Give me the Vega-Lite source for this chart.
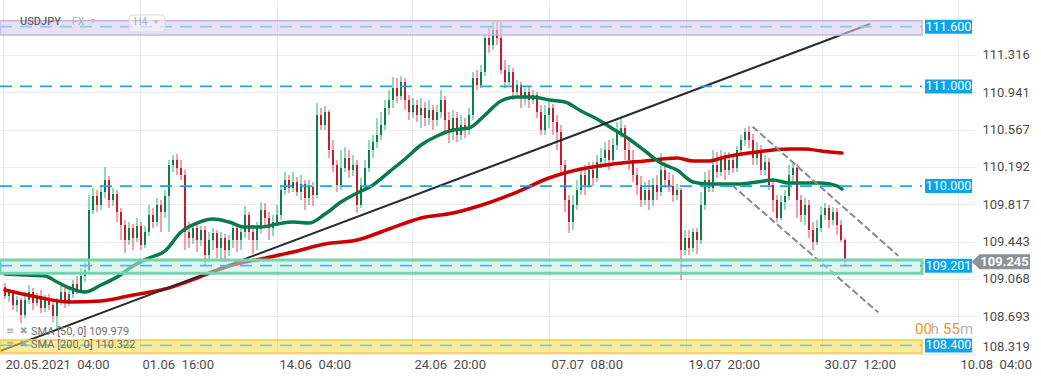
{
"$schema": "https://vega.github.io/schema/vega-lite/v6.json",
"width": 975, "height": 355,
"autosize": {"type": "none"},
"padding": {"left": 0, "top": 0, "right": 66, "bottom": 24},
"background": "white",
"config": {"view": {"stroke": null}, "font": "Roboto"},
"datasets": {
"candles": [
{"i":0,"o":108.987,"h":109.027,"l":108.866,"c":108.896},
{"i":1,"o":108.896,"h":108.966,"l":108.836,"c":108.936},
{"i":2,"o":108.936,"h":108.956,"l":108.756,"c":108.806},
{"i":3,"o":108.806,"h":108.896,"l":108.735,"c":108.856},
{"i":4,"o":108.856,"h":108.876,"l":108.625,"c":108.705},
{"i":5,"o":108.705,"h":108.936,"l":108.675,"c":108.856},
{"i":6,"o":108.856,"h":109.007,"l":108.816,"c":108.936},
{"i":7,"o":108.936,"h":108.977,"l":108.756,"c":108.826},
{"i":8,"o":108.826,"h":108.926,"l":108.796,"c":108.896},
{"i":9,"o":108.896,"h":108.956,"l":108.725,"c":108.776},
{"i":10,"o":108.776,"h":108.906,"l":108.735,"c":108.876},
{"i":11,"o":108.876,"h":108.916,"l":108.756,"c":108.806},
{"i":12,"o":108.806,"h":108.856,"l":108.635,"c":108.695},
{"i":13,"o":108.695,"h":108.876,"l":108.555,"c":108.856},
{"i":14,"o":108.856,"h":108.997,"l":108.806,"c":108.936},
{"i":15,"o":108.936,"h":108.977,"l":108.776,"c":108.836},
{"i":16,"o":108.836,"h":108.956,"l":108.796,"c":108.916},
{"i":17,"o":108.916,"h":109.057,"l":108.876,"c":109.017},
{"i":18,"o":109.017,"h":109.097,"l":108.916,"c":108.956},
{"i":19,"o":108.956,"h":109.177,"l":108.926,"c":109.097},
{"i":20,"o":109.097,"h":109.238,"l":109.037,"c":109.157},
{"i":21,"o":109.157,"h":109.910,"l":109.137,"c":109.760},
{"i":22,"o":109.760,"h":109.980,"l":109.719,"c":109.900},
{"i":23,"o":109.900,"h":109.960,"l":109.740,"c":109.810},
{"i":24,"o":109.810,"h":110.011,"l":109.760,"c":109.940},
{"i":25,"o":109.940,"h":110.191,"l":109.880,"c":110.061},
{"i":26,"o":110.061,"h":110.101,"l":109.780,"c":109.860},
{"i":27,"o":109.860,"h":109.980,"l":109.800,"c":109.920},
{"i":28,"o":109.920,"h":109.960,"l":109.639,"c":109.740},
{"i":29,"o":109.740,"h":109.780,"l":109.458,"c":109.609},
{"i":30,"o":109.609,"h":109.659,"l":109.328,"c":109.458},
{"i":31,"o":109.458,"h":109.639,"l":109.408,"c":109.579},
{"i":32,"o":109.579,"h":109.619,"l":109.358,"c":109.479},
{"i":33,"o":109.479,"h":109.679,"l":109.438,"c":109.599},
{"i":34,"o":109.599,"h":109.639,"l":109.358,"c":109.408},
{"i":35,"o":109.408,"h":109.599,"l":109.378,"c":109.539},
{"i":36,"o":109.539,"h":109.810,"l":109.499,"c":109.709},
{"i":37,"o":109.709,"h":109.780,"l":109.579,"c":109.639},
{"i":38,"o":109.639,"h":109.880,"l":109.599,"c":109.810},
{"i":39,"o":109.810,"h":109.860,"l":109.539,"c":109.740},
{"i":40,"o":109.740,"h":109.960,"l":109.679,"c":109.900},
{"i":41,"o":109.900,"h":110.262,"l":109.539,"c":110.211},
{"i":42,"o":110.211,"h":110.312,"l":110.141,"c":110.262},
{"i":43,"o":110.262,"h":110.322,"l":110.111,"c":110.181},
{"i":44,"o":110.181,"h":110.262,"l":110.061,"c":110.111},
{"i":45,"o":110.111,"h":110.161,"l":109.358,"c":109.539},
{"i":46,"o":109.539,"h":109.639,"l":109.378,"c":109.479},
{"i":47,"o":109.479,"h":109.609,"l":109.418,"c":109.579},
{"i":48,"o":109.579,"h":109.619,"l":109.338,"c":109.458},
{"i":49,"o":109.458,"h":109.599,"l":109.398,"c":109.559},
{"i":50,"o":109.559,"h":109.599,"l":109.207,"c":109.308},
{"i":51,"o":109.308,"h":109.539,"l":109.238,"c":109.458},
{"i":52,"o":109.458,"h":109.579,"l":109.358,"c":109.529},
{"i":53,"o":109.529,"h":109.559,"l":109.278,"c":109.378},
{"i":54,"o":109.378,"h":109.539,"l":109.238,"c":109.479},
{"i":55,"o":109.479,"h":109.519,"l":109.238,"c":109.358},
{"i":56,"o":109.358,"h":109.509,"l":109.298,"c":109.458},
{"i":57,"o":109.458,"h":109.639,"l":109.378,"c":109.579},
{"i":58,"o":109.579,"h":109.609,"l":109.338,"c":109.458},
{"i":59,"o":109.458,"h":109.579,"l":109.358,"c":109.539},
{"i":60,"o":109.539,"h":109.800,"l":109.479,"c":109.709},
{"i":61,"o":109.709,"h":109.740,"l":109.458,"c":109.539},
{"i":62,"o":109.539,"h":109.609,"l":109.318,"c":109.458},
{"i":63,"o":109.458,"h":109.639,"l":109.358,"c":109.579},
{"i":64,"o":109.579,"h":109.840,"l":109.519,"c":109.760},
{"i":65,"o":109.760,"h":109.830,"l":109.599,"c":109.679},
{"i":66,"o":109.679,"h":109.740,"l":109.458,"c":109.579},
{"i":67,"o":109.579,"h":109.709,"l":109.499,"c":109.639},
{"i":68,"o":109.639,"h":109.810,"l":109.599,"c":109.709},
{"i":69,"o":109.709,"h":110.011,"l":109.659,"c":109.960},
{"i":70,"o":109.960,"h":110.141,"l":109.910,"c":110.061},
{"i":71,"o":110.061,"h":110.111,"l":109.930,"c":109.980},
{"i":72,"o":109.980,"h":110.141,"l":109.940,"c":110.041},
{"i":73,"o":110.041,"h":110.091,"l":109.900,"c":109.940},
{"i":74,"o":109.940,"h":110.111,"l":109.860,"c":110.021},
{"i":75,"o":110.021,"h":110.061,"l":109.760,"c":109.880},
{"i":76,"o":109.880,"h":110.061,"l":109.810,"c":109.991},
{"i":77,"o":109.991,"h":110.041,"l":109.800,"c":109.910},
{"i":78,"o":109.910,"h":110.834,"l":109.880,"c":110.713},
{"i":79,"o":110.713,"h":110.784,"l":110.563,"c":110.613},
{"i":80,"o":110.613,"h":110.804,"l":110.563,"c":110.744},
{"i":81,"o":110.744,"h":110.764,"l":110.282,"c":110.362},
{"i":82,"o":110.362,"h":110.462,"l":110.141,"c":110.211},
{"i":83,"o":110.211,"h":110.262,"l":109.940,"c":110.011},
{"i":84,"o":110.011,"h":110.362,"l":109.960,"c":110.181},
{"i":85,"o":110.181,"h":110.392,"l":110.141,"c":110.282},
{"i":86,"o":110.282,"h":110.362,"l":110.081,"c":110.161},
{"i":87,"o":110.161,"h":110.312,"l":110.101,"c":110.211},
{"i":88,"o":110.211,"h":110.262,"l":109.729,"c":109.810},
{"i":89,"o":109.810,"h":110.081,"l":109.780,"c":110.011},
{"i":90,"o":110.011,"h":110.262,"l":109.960,"c":110.181},
{"i":91,"o":110.181,"h":110.462,"l":110.141,"c":110.362},
{"i":92,"o":110.362,"h":110.513,"l":110.282,"c":110.442},
{"i":93,"o":110.442,"h":110.683,"l":110.382,"c":110.513},
{"i":94,"o":110.513,"h":110.744,"l":110.462,"c":110.613},
{"i":95,"o":110.613,"h":110.864,"l":110.563,"c":110.784},
{"i":96,"o":110.784,"h":110.964,"l":110.713,"c":110.864},
{"i":97,"o":110.864,"h":111.095,"l":110.784,"c":110.984},
{"i":98,"o":110.984,"h":111.085,"l":110.834,"c":110.904},
{"i":99,"o":110.904,"h":111.105,"l":110.864,"c":111.045},
{"i":100,"o":111.045,"h":111.085,"l":110.764,"c":110.864},
{"i":101,"o":110.864,"h":110.914,"l":110.663,"c":110.744},
{"i":102,"o":110.744,"h":110.884,"l":110.683,"c":110.814},
{"i":103,"o":110.814,"h":110.864,"l":110.643,"c":110.713},
{"i":104,"o":110.713,"h":110.884,"l":110.583,"c":110.784},
{"i":105,"o":110.784,"h":110.844,"l":110.603,"c":110.683},
{"i":106,"o":110.683,"h":110.864,"l":110.613,"c":110.764},
{"i":107,"o":110.764,"h":110.814,"l":110.563,"c":110.663},
{"i":108,"o":110.663,"h":110.814,"l":110.603,"c":110.744},
{"i":109,"o":110.744,"h":110.964,"l":110.683,"c":110.864},
{"i":110,"o":110.864,"h":110.904,"l":110.543,"c":110.663},
{"i":111,"o":110.663,"h":110.744,"l":110.432,"c":110.543},
{"i":112,"o":110.543,"h":110.764,"l":110.462,"c":110.683},
{"i":113,"o":110.683,"h":110.744,"l":110.442,"c":110.513},
{"i":114,"o":110.513,"h":110.713,"l":110.462,"c":110.613},
{"i":115,"o":110.613,"h":110.683,"l":110.482,"c":110.563},
{"i":116,"o":110.563,"h":110.784,"l":110.513,"c":110.713},
{"i":117,"o":110.713,"h":111.145,"l":110.663,"c":111.085},
{"i":118,"o":111.085,"h":111.165,"l":110.964,"c":111.015},
{"i":119,"o":111.015,"h":111.215,"l":110.984,"c":111.145},
{"i":120,"o":111.145,"h":111.527,"l":111.105,"c":111.486},
{"i":121,"o":111.486,"h":111.587,"l":111.336,"c":111.416},
{"i":122,"o":111.416,"h":111.647,"l":111.366,"c":111.567},
{"i":123,"o":111.567,"h":111.667,"l":111.416,"c":111.486},
{"i":124,"o":111.486,"h":111.647,"l":111.125,"c":111.165},
{"i":125,"o":111.165,"h":111.266,"l":110.984,"c":111.045},
{"i":126,"o":111.045,"h":111.215,"l":111.015,"c":111.145},
{"i":127,"o":111.145,"h":111.185,"l":110.864,"c":110.944},
{"i":128,"o":110.944,"h":111.065,"l":110.914,"c":111.015},
{"i":129,"o":111.015,"h":111.045,"l":110.784,"c":110.884},
{"i":130,"o":110.884,"h":110.984,"l":110.814,"c":110.944},
{"i":131,"o":110.944,"h":111.005,"l":110.784,"c":110.864},
{"i":132,"o":110.864,"h":110.964,"l":110.824,"c":110.914},
{"i":133,"o":110.914,"h":110.944,"l":110.683,"c":110.744},
{"i":134,"o":110.744,"h":110.814,"l":110.513,"c":110.563},
{"i":135,"o":110.563,"h":110.814,"l":110.513,"c":110.713},
{"i":136,"o":110.713,"h":110.844,"l":110.583,"c":110.784},
{"i":137,"o":110.784,"h":110.824,"l":110.513,"c":110.643},
{"i":138,"o":110.643,"h":110.713,"l":110.362,"c":110.543},
{"i":139,"o":110.543,"h":110.613,"l":110.111,"c":110.211},
{"i":140,"o":110.211,"h":110.262,"l":109.740,"c":109.860},
{"i":141,"o":109.860,"h":109.910,"l":109.529,"c":109.639},
{"i":142,"o":109.639,"h":109.910,"l":109.559,"c":109.810},
{"i":143,"o":109.810,"h":110.061,"l":109.760,"c":109.960},
{"i":144,"o":109.960,"h":110.181,"l":109.910,"c":110.111},
{"i":145,"o":110.111,"h":110.211,"l":109.910,"c":110.011},
{"i":146,"o":110.011,"h":110.241,"l":109.980,"c":110.161},
{"i":147,"o":110.161,"h":110.241,"l":110.001,"c":110.081},
{"i":148,"o":110.081,"h":110.312,"l":110.041,"c":110.241},
{"i":149,"o":110.241,"h":110.382,"l":110.181,"c":110.282},
{"i":150,"o":110.282,"h":110.442,"l":110.211,"c":110.362},
{"i":151,"o":110.362,"h":110.462,"l":110.161,"c":110.262},
{"i":152,"o":110.262,"h":110.482,"l":110.211,"c":110.412},
{"i":153,"o":110.412,"h":110.643,"l":110.362,"c":110.543},
{"i":154,"o":110.543,"h":110.683,"l":110.482,"c":110.583},
{"i":155,"o":110.583,"h":110.613,"l":110.262,"c":110.362},
{"i":156,"o":110.362,"h":110.462,"l":110.161,"c":110.262},
{"i":157,"o":110.262,"h":110.362,"l":110.041,"c":110.111},
{"i":158,"o":110.111,"h":110.181,"l":109.910,"c":110.011},
{"i":159,"o":110.011,"h":110.101,"l":109.790,"c":109.860},
{"i":160,"o":109.860,"h":110.041,"l":109.810,"c":109.960},
{"i":161,"o":109.960,"h":110.061,"l":109.760,"c":109.860},
{"i":162,"o":109.860,"h":110.081,"l":109.800,"c":110.011},
{"i":163,"o":110.011,"h":110.111,"l":109.860,"c":109.940},
{"i":164,"o":109.940,"h":110.332,"l":109.900,"c":110.161},
{"i":165,"o":110.161,"h":110.241,"l":109.980,"c":110.061},
{"i":166,"o":110.061,"h":110.141,"l":109.940,"c":110.001},
{"i":167,"o":110.001,"h":110.111,"l":109.840,"c":109.910},
{"i":168,"o":109.910,"h":110.021,"l":109.860,"c":109.960},
{"i":169,"o":109.960,"h":109.980,"l":109.057,"c":109.358},
{"i":170,"o":109.358,"h":109.559,"l":109.308,"c":109.479},
{"i":171,"o":109.479,"h":109.559,"l":109.308,"c":109.378},
{"i":172,"o":109.378,"h":109.579,"l":109.338,"c":109.539},
{"i":173,"o":109.539,"h":109.579,"l":109.318,"c":109.458},
{"i":174,"o":109.458,"h":109.940,"l":109.418,"c":109.810},
{"i":175,"o":109.810,"h":110.141,"l":109.760,"c":110.061},
{"i":176,"o":110.061,"h":110.161,"l":109.940,"c":109.980},
{"i":177,"o":109.980,"h":110.362,"l":109.940,"c":110.211},
{"i":178,"o":110.211,"h":110.342,"l":110.081,"c":110.141},
{"i":179,"o":110.141,"h":110.362,"l":110.101,"c":110.282},
{"i":180,"o":110.282,"h":110.342,"l":110.061,"c":110.161},
{"i":181,"o":110.161,"h":110.342,"l":110.111,"c":110.262},
{"i":182,"o":110.262,"h":110.312,"l":110.131,"c":110.181},
{"i":183,"o":110.181,"h":110.402,"l":110.141,"c":110.362},
{"i":184,"o":110.362,"h":110.513,"l":110.312,"c":110.462},
{"i":185,"o":110.462,"h":110.583,"l":110.402,"c":110.543},
{"i":186,"o":110.543,"h":110.603,"l":110.382,"c":110.462},
{"i":187,"o":110.462,"h":110.523,"l":110.211,"c":110.282},
{"i":188,"o":110.282,"h":110.442,"l":110.211,"c":110.362},
{"i":189,"o":110.362,"h":110.412,"l":110.111,"c":110.161},
{"i":190,"o":110.161,"h":110.312,"l":110.111,"c":110.241},
{"i":191,"o":110.241,"h":110.282,"l":109.960,"c":110.011},
{"i":192,"o":110.011,"h":110.081,"l":109.740,"c":109.860},
{"i":193,"o":109.860,"h":109.910,"l":109.639,"c":109.679},
{"i":194,"o":109.679,"h":109.910,"l":109.659,"c":109.840},
{"i":195,"o":109.840,"h":109.960,"l":109.760,"c":109.900},
{"i":196,"o":109.900,"h":110.211,"l":109.860,"c":110.111},
{"i":197,"o":110.111,"h":110.231,"l":110.041,"c":110.181},
{"i":198,"o":110.181,"h":110.221,"l":109.679,"c":109.860},
{"i":199,"o":109.860,"h":109.910,"l":109.639,"c":109.709},
{"i":200,"o":109.709,"h":109.880,"l":109.609,"c":109.810},
{"i":201,"o":109.810,"h":109.860,"l":109.479,"c":109.559},
{"i":202,"o":109.559,"h":109.639,"l":109.358,"c":109.438},
{"i":203,"o":109.438,"h":109.659,"l":109.408,"c":109.579},
{"i":204,"o":109.579,"h":109.800,"l":109.539,"c":109.709},
{"i":205,"o":109.709,"h":109.830,"l":109.659,"c":109.780},
{"i":206,"o":109.780,"h":109.810,"l":109.579,"c":109.659},
{"i":207,"o":109.659,"h":109.790,"l":109.609,"c":109.740},
{"i":208,"o":109.740,"h":109.780,"l":109.509,"c":109.609},
{"i":209,"o":109.609,"h":109.659,"l":109.438,"c":109.458},
{"i":210,"o":109.458,"h":109.479,"l":109.187,"c":109.245}
],
"sma50": [
{"i":0,"v":109.117},{"i":5,"v":109.107},{"i":10,"v":109.097},{"i":13,"v":109.037},{"i":16,"v":108.977},{"i":20,"v":108.936},{"i":24,"v":109.007},{"i":28,"v":109.087},{"i":32,"v":109.197},{"i":36,"v":109.278},{"i":40,"v":109.348},{"i":44,"v":109.539},{"i":48,"v":109.629},{"i":52,"v":109.669},{"i":56,"v":109.639},{"i":60,"v":109.589},{"i":64,"v":109.589},{"i":68,"v":109.619},{"i":72,"v":109.639},{"i":76,"v":109.629},{"i":80,"v":109.719},{"i":84,"v":109.840},{"i":88,"v":109.930},{"i":92,"v":110.011},{"i":96,"v":110.141},{"i":100,"v":110.272},{"i":104,"v":110.412},{"i":108,"v":110.503},{"i":112,"v":110.563},{"i":116,"v":110.583},{"i":120,"v":110.713},{"i":124,"v":110.854},{"i":128,"v":110.894},{"i":132,"v":110.894},{"i":136,"v":110.864},{"i":140,"v":110.844},{"i":144,"v":110.754},{"i":148,"v":110.673},{"i":152,"v":110.573},{"i":156,"v":110.472},{"i":160,"v":110.352},{"i":164,"v":110.231},{"i":168,"v":110.161},{"i":172,"v":110.041},{"i":176,"v":110.021},{"i":180,"v":110.021},{"i":184,"v":110.021},{"i":188,"v":110.041},{"i":192,"v":110.061},{"i":196,"v":110.031},{"i":200,"v":110.031},{"i":204,"v":110.031},{"i":208,"v":110.001},{"i":209.25,"v":109.970}
],
"sma200": [
{"i":0,"v":108.956},{"i":8,"v":108.886},{"i":16,"v":108.836},{"i":24,"v":108.846},{"i":32,"v":108.906},{"i":40,"v":108.966},{"i":48,"v":109.077},{"i":56,"v":109.197},{"i":64,"v":109.268},{"i":72,"v":109.338},{"i":80,"v":109.418},{"i":88,"v":109.458},{"i":96,"v":109.569},{"i":104,"v":109.679},{"i":112,"v":109.729},{"i":120,"v":109.820},{"i":128,"v":109.940},{"i":136,"v":110.081},{"i":144,"v":110.171},{"i":152,"v":110.221},{"i":160,"v":110.252},{"i":168,"v":110.282},{"i":172,"v":110.252},{"i":176,"v":110.252},{"i":180,"v":110.292},{"i":188,"v":110.342},{"i":196,"v":110.372},{"i":200,"v":110.372},{"i":204,"v":110.352},{"i":209.25,"v":110.332}
],
"levels": [
{"lv":111.6,"t":"111.600"},{"lv":111.0,"t":"111.000"},{"lv":110.0,"t":"110.000"},{"lv":109.201,"t":"109.201"},{"lv":108.4,"t":"108.400"}
]
},
"layer": [
{"data":{"name":"candles"},"mark":{"type":"rule","strokeWidth":1},
 "encoding":{
  "x":{"field":"i","type":"quantitative","scale":{"domain":[-1.25,242.5],"nice":false,"zero":false},
   "axis":{"values":[-0.5,33.75,68,101.75,136,170.25,204.25,238.25],"title":null,"grid":true,"gridColor":"#ececec","domain":false,"ticks":false,"labelPadding":3,"labelAlign":"left","labelOffset":2,"labelFlush":false,"labelOverlap":false,"labelFontSize":13,"labelColor":"#4d4d4d","labelFont":"Roboto","labelBaseline":"top",
    "labelExpr":"datum.value < 10 ? '20.05.2021\u00a0\u00a004:00' : datum.value < 50 ? '01.06\u00a0\u00a016:00' : datum.value < 80 ? '14.06\u00a0\u00a004:00' : datum.value < 120 ? '24.06\u00a0\u00a020:00' : datum.value < 150 ? '07.07\u00a0\u00a008:00' : datum.value < 190 ? '19.07\u00a0\u00a020:00' : datum.value < 220 ? '30.07\u00a0\u00a012:00' : '10.08\u00a0\u00a004:00'"}},
  "y":{"field":"l","type":"quantitative","scale":{"domain":[108.304,111.868],"nice":false,"zero":false},
   "axis":{"orient":"right","values":[111.316,110.941,110.567,110.192,109.817,109.443,109.068,108.693,108.319],"format":".3f","title":null,"grid":true,"gridColor":"#ececec","domain":false,"ticks":false,"labelPadding":7,"labelFontSize":13,"labelColor":"#4d4d4d","labelFont":"Roboto","labelFlush":false,
    "labelBaseline":{"condition":{"test":"datum.value < 108.4","value":"bottom"},"value":"middle"}}},
  "y2":{"field":"h"},
  "color":{"condition":{"test":"datum.c >= datum.o","value":"#1fb574"},"value":"#f53d52"}
 }},
{"data":{"name":"candles"},"mark":{"type":"rule","strokeWidth":2},
 "encoding":{
  "x":{"field":"i","type":"quantitative","title":null},
  "y":{"field":"o","type":"quantitative","title":null},
  "y2":{"field":"c"},
  "color":{"condition":{"test":"datum.c >= datum.o","value":"#0d7f49"},"value":"#c81a30"}
 }},
{"data":{"name":"sma200"},"mark":{"type":"line","strokeWidth":3.5,"color":"#cc0000","interpolate":"monotone","strokeCap":"round"},
 "encoding":{
  "x":{"field":"i","type":"quantitative","title":null},
  "y":{"field":"v","type":"quantitative","title":null}
 }},
{"data":{"name":"sma50"},"mark":{"type":"line","strokeWidth":3.5,"color":"#097a4b","interpolate":"monotone","strokeCap":"round"},
 "encoding":{
  "x":{"field":"i","type":"quantitative","title":null},
  "y":{"field":"v","type":"quantitative","title":null}
 }},
{"data":{"values":[{"i":-1.25,"v":108.344},{"i":216.25,"v":111.627}]},"mark":{"type":"line","strokeWidth":2,"color":"#272c33"},
 "encoding":{
  "x":{"field":"i","type":"quantitative","title":null},
  "y":{"field":"v","type":"quantitative","title":null}
 }},
{"data":{"values":[{"g":"a","i":186.9,"v":110.596},{"g":"a","i":223.3,"v":109.301},{"g":"b","i":181.7,"v":110.011},{"g":"b","i":218.3,"v":108.732}]},
 "mark":{"type":"line","strokeWidth":2,"color":"#8a8a8a","strokeDash":[7,3]},
 "encoding":{
  "x":{"field":"i","type":"quantitative","title":null},
  "y":{"field":"v","type":"quantitative","title":null},
  "detail":{"field":"g"}
 }},
{"data":{"values":[{"a":-1.25,"b":229.25,"lo":111.517,"hi":111.66}]},
 "mark":{"type":"rect","fill":"#d8cdee","fillOpacity":0.6,"stroke":"#c4b8e2","strokeWidth":1.5},
 "encoding":{
  "x":{"field":"a","type":"quantitative","title":null},
  "x2":{"field":"b"},
  "y":{"field":"lo","type":"quantitative","title":null},
  "y2":{"field":"hi"}
 }},
{"data":{"values":[{"a":-1.25,"b":229.25,"lo":109.124,"hi":109.257}]},
 "mark":{"type":"rect","fill":"#c4eedd","fillOpacity":0.55,"stroke":"#6fd4b1","strokeWidth":3},
 "encoding":{
  "x":{"field":"a","type":"quantitative","title":null},
  "x2":{"field":"b"},
  "y":{"field":"lo","type":"quantitative","title":null},
  "y2":{"field":"hi"}
 }},
{"data":{"values":[{"a":-1.25,"b":229.25,"lo":108.324,"hi":108.454}]},
 "mark":{"type":"rect","fill":"#f8d94e","fillOpacity":0.55,"stroke":"#f3cf3c","strokeWidth":1.5},
 "encoding":{
  "x":{"field":"a","type":"quantitative","title":null},
  "x2":{"field":"b"},
  "y":{"field":"lo","type":"quantitative","title":null},
  "y2":{"field":"hi"}
 }},
{"data":{"name":"levels"},"mark":{"type":"rule","strokeDash":[12,8],"strokeWidth":1.8},
 "encoding":{
  "x":{"datum":-1.25,"type":"quantitative"},
  "x2":{"datum":229.25},
  "y":{"field":"lv","type":"quantitative","title":null},
  "color":{"field":"t","type":"nominal","legend":null,"scale":{"domain":["111.600","111.000","110.000","109.201","108.400"],"range":["#8ec6f0","#1ea6ea","#1ea6ea","#4cb8ea","#8dcaa6"]}}
 }},
{"data":{"name":"levels"},"mark":{"type":"tick","orient":"horizontal","size":47,"thickness":14,"color":"#0ba5ec","opacity":1},
 "encoding":{
  "x":{"datum":235.875,"type":"quantitative"},
  "y":{"field":"lv","type":"quantitative","title":null}
 }},
{"data":{"name":"levels"},"mark":{"type":"text","color":"white","fontSize":12.5,"font":"Roboto","align":"center","baseline":"middle"},
 "encoding":{
  "x":{"datum":235.875,"type":"quantitative"},
  "y":{"field":"lv","type":"quantitative","title":null},
  "text":{"field":"t"}
 }},
{"data":{"values":[{"i":249.875,"v":109.24}]},"mark":{"type":"tick","orient":"horizontal","size":51,"thickness":15,"color":"#8a9399","opacity":1},
 "encoding":{
  "x":{"field":"i","type":"quantitative","title":null},
  "y":{"field":"v","type":"quantitative","title":null}
 }},
{"data":{"values":[{"i":242.625,"v":109.24}]},"mark":{"type":"point","shape":"M-1,0L1,-1.8L1,1.8Z","size":64,"filled":true,"color":"#8a9399","opacity":1,"strokeWidth":0},
 "encoding":{
  "x":{"field":"i","type":"quantitative","title":null},
  "y":{"field":"v","type":"quantitative","title":null}
 }},
{"data":{"values":[{"i":249.875,"v":109.24,"t":"109.245"}]},"mark":{"type":"text","color":"white","fontSize":13,"fontWeight":"bold","font":"Roboto","align":"center","baseline":"middle"},
 "encoding":{
  "x":{"field":"i","type":"quantitative","title":null},
  "y":{"field":"v","type":"quantitative","title":null},
  "text":{"field":"t"}
 }},
{"data":{"values":[{"i":227.5,"v":108.515,"t":"00"},{"i":234.5,"v":108.515,"t":"55"}]},"mark":{"type":"text","color":"#f7941d","fontSize":15,"font":"Roboto","align":"left","baseline":"alphabetic"},
 "encoding":{
  "x":{"field":"i","type":"quantitative","title":null},
  "y":{"field":"v","type":"quantitative","title":null},
  "text":{"field":"t"}
 }},
{"data":{"values":[{"i":231.4,"v":108.515,"t":"h"},{"i":238.75,"v":108.515,"t":"m"}]},"mark":{"type":"text","color":"#b5b5b5","fontSize":15,"font":"Roboto","align":"left","baseline":"alphabetic"},
 "encoding":{
  "x":{"field":"i","type":"quantitative","title":null},
  "y":{"field":"v","type":"quantitative","title":null},
  "text":{"field":"t"}
 }},
{"data":{"values":[{"i":6.5,"v":108.535,"t":"SMA [50,  0] 109.979"},{"i":6.5,"v":108.404,"t":"SMA [200,  0] 110.322"}]},"mark":{"type":"text","color":"#6e6e6e","fontSize":11,"font":"Roboto","align":"left","baseline":"middle"},
 "encoding":{
  "x":{"field":"i","type":"quantitative","title":null},
  "y":{"field":"v","type":"quantitative","title":null},
  "text":{"field":"t"}
 }},
{"data":{"values":[{"i":0.25,"v":108.545,"t":"≡"},{"i":3.6,"v":108.545,"t":"✖"},{"i":0.25,"v":108.41,"t":"≡"},{"i":3.6,"v":108.41,"t":"✖"}]},"mark":{"type":"text","color":"#a6a6a6","fontSize":10,"font":"DejaVu Sans","align":"left","baseline":"middle"},
 "encoding":{
  "x":{"field":"i","type":"quantitative","title":null},
  "y":{"field":"v","type":"quantitative","title":null},
  "text":{"field":"t"}
 }},
{"data":{"values":[{"a":31,"b":40,"lo":111.547,"hi":111.717}]},
 "mark":{"type":"rect","fill":"white","fillOpacity":0.45,"stroke":"#d9d9d9","strokeWidth":1,"cornerRadius":3},
 "encoding":{
  "x":{"field":"a","type":"quantitative","title":null},
  "x2":{"field":"b"},
  "y":{"field":"lo","type":"quantitative","title":null},
  "y2":{"field":"hi"}
 }},
{"data":{"values":[{"i":3.75,"v":111.644,"t":"USDJPY"}]},"mark":{"type":"text","color":"#666666","fontSize":11,"fontWeight":500,"font":"Roboto","align":"left","baseline":"middle"},
 "encoding":{
  "x":{"field":"i","type":"quantitative","title":null},
  "y":{"field":"v","type":"quantitative","title":null},
  "text":{"field":"t"}
 }},
{"data":{"values":[{"i":16.75,"v":111.644,"t":"FX"},{"i":32.25,"v":111.644,"t":"H4"}]},"mark":{"type":"text","color":"#a9b2bd","fontSize":10.5,"font":"Roboto","align":"left","baseline":"middle"},
 "encoding":{
  "x":{"field":"i","type":"quantitative","title":null},
  "y":{"field":"v","type":"quantitative","title":null},
  "text":{"field":"t"}
 }},
{"data":{"values":[{"i":22,"v":111.655},{"i":37.75,"v":111.645}]},"mark":{"type":"point","shape":"triangle-down","size":28,"filled":true,"color":"#c4c4c4","opacity":1},
 "encoding":{
  "x":{"field":"i","type":"quantitative","title":null},
  "y":{"field":"v","type":"quantitative","title":null}
 }}
]
}
